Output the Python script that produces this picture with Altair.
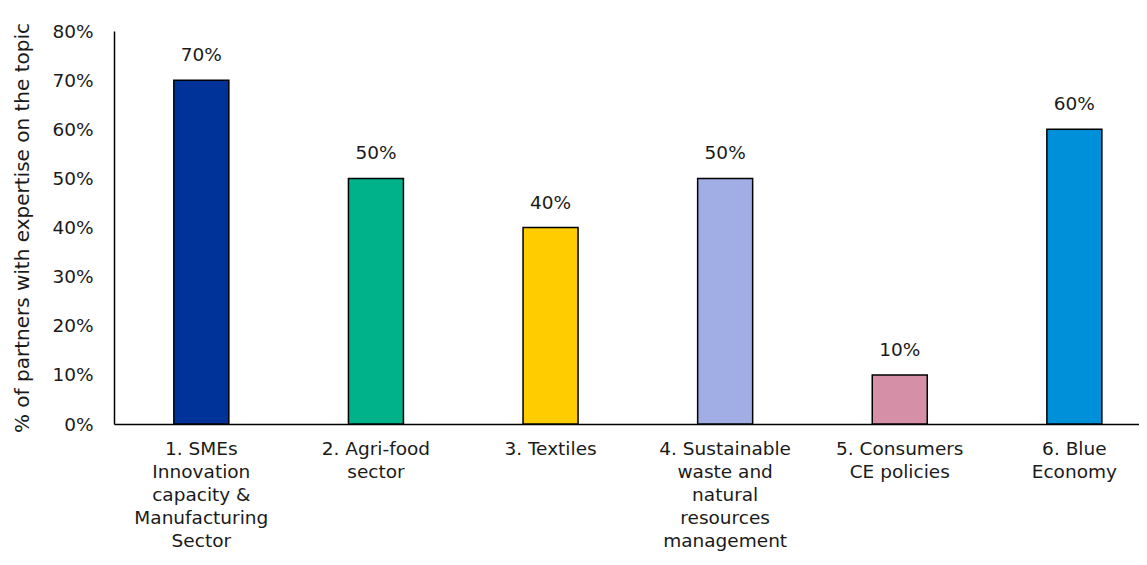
import altair as alt
import pandas as pd

categories = [
    "1. SMEs|Innovation|capacity &|Manufacturing|Sector",
    "2. Agri-food|sector",
    "3. Textiles",
    "4. Sustainable|waste and|natural|resources|management",
    "5. Consumers|CE policies",
    "6. Blue|Economy",
]
values = [0.70, 0.50, 0.40, 0.50, 0.10, 0.60]
colors = ["#003399", "#00B28A", "#FFCC00", "#A0AEE5", "#D590A8", "#0090DA"]

df = pd.DataFrame({"cat": categories, "val": values, "color": colors})

FONT = "DejaVu Sans"
FS = 18.5
TXT = "#1a1a1a"

x = alt.X("cat:N", sort=categories, title=None,
          scale=alt.Scale(paddingInner=0.685, paddingOuter=0.2777, align=0.617),
          axis=alt.Axis(labelAngle=0, labelExpr="split(datum.label, '|')",
                        labelLineHeight=23, labelPadding=15, ticks=False,
                        domainColor="black", domainWidth=1.5,
                        labelFontSize=FS, labelColor=TXT, labelFont=FONT,
                        labelBaseline="top"))

bars = alt.Chart(df).mark_bar(stroke="black", strokeWidth=1.5).encode(
    x=x,
    y=alt.Y("val:Q", scale=alt.Scale(domain=[0, 0.8]),
            title="%  of partners with expertise on the topic",
            axis=alt.Axis(format=".0%", values=[0, 0.1, 0.2, 0.3, 0.4, 0.5, 0.6, 0.7, 0.8],
                          grid=False, ticks=False, domainColor="black", domainWidth=1.5,
                          labelFontSize=FS, labelColor=TXT, labelFont=FONT,
                          labelPadding=21, titleFontSize=20, titleFont=FONT,
                          titleFontWeight="normal", titleColor=TXT, titlePadding=19)),
    color=alt.Color("color:N", scale=None),
)

text = alt.Chart(df).mark_text(dy=-25, fontSize=FS, font=FONT, color=TXT).encode(
    x=alt.X("cat:N", sort=categories),
    y=alt.Y("val:Q"),
    text=alt.Text("val:Q", format=".0%"),
)

chart = (bars + text).properties(
    width=1025, height=393,
    autosize=alt.AutoSizeParams(type="none"),
    padding={"left": 106, "top": 23, "right": 0, "bottom": 128},
).configure_view(stroke=None)

chart.save("out.html", embed_options={"renderer": "svg", "actions": False})
